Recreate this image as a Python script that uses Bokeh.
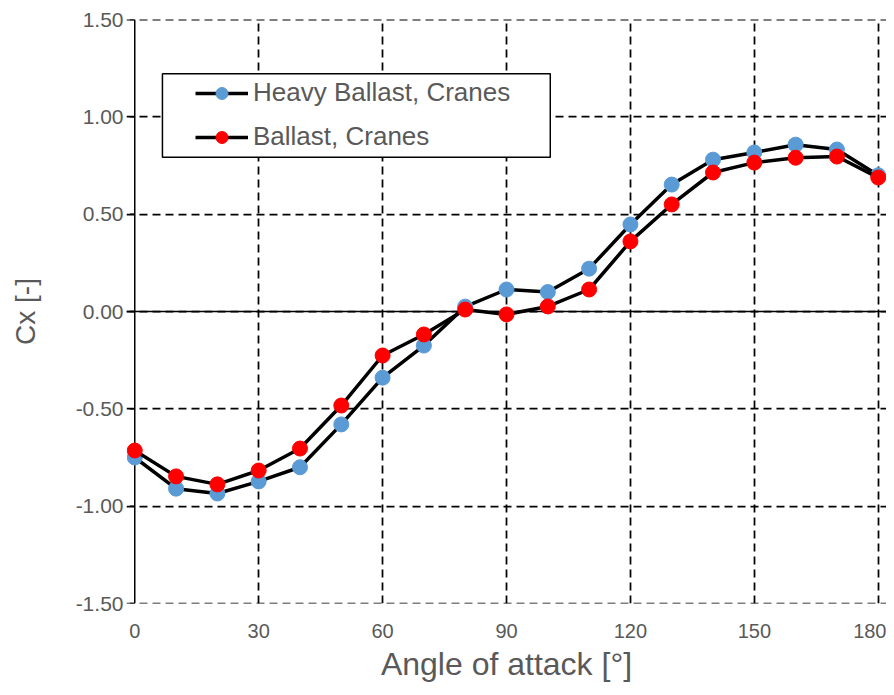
from bokeh.plotting import figure
from bokeh.models import (Range1d, Span, BoxAnnotation, Legend, LegendItem,
                          FixedTicker, NumeralTickFormatter)
from bokeh.embed import file_html
from bokeh.resources import INLINE

angles = [0, 10, 20, 30, 40, 50, 60, 70, 80, 90, 100, 110, 120, 130, 140, 150, 160, 170, 180]
heavy_ballast_cranes = [-0.75, -0.91, -0.935, -0.873, -0.80, -0.58, -0.34, -0.175, 0.025, 0.113,
                        0.10, 0.22, 0.447, 0.652, 0.78, 0.817, 0.857, 0.832, 0.70]
ballast_cranes = [-0.714, -0.847, -0.888, -0.817, -0.704, -0.483, -0.226, -0.118, 0.01, -0.015,
                  0.026, 0.113, 0.36, 0.55, 0.714, 0.765, 0.79, 0.796, 0.688]
x_ticks = [0, 30, 60, 90, 120, 150, 180]
y_ticks = [-1.5, -1.0, -0.5, 0.0, 0.5, 1.0, 1.5]
series_labels = ["Heavy Ballast, Cranes", "Ballast, Cranes"]
series_colors = ["#5B9BD5", "#FF0000"]

FONT = "Liberation Sans"
GREY = "#595959"
DASH = "8 5"

p = figure(width=886, height=687, output_backend="svg", toolbar_location=None,
           x_range=Range1d(-2, 182), y_range=Range1d(-1.5, 1.5),
           min_border_left=126, min_border_right=0, min_border_top=19, min_border_bottom=84)
p.outline_line_color = None
p.background_fill_color = "white"

# axes
p.xaxis.ticker = FixedTicker(ticks=x_ticks)
p.yaxis.ticker = FixedTicker(ticks=y_ticks)
p.yaxis.formatter = NumeralTickFormatter(format="0.00")
p.xaxis.axis_line_color = None
p.xaxis.major_tick_line_color = None
p.xaxis.minor_tick_line_color = None
p.xaxis.major_label_standoff = 14
p.xaxis.major_label_text_font = FONT
p.xaxis.major_label_text_font_size = "20px"
p.xaxis.major_label_text_color = GREY
p.xaxis.axis_label = "Angle of attack [°]"
p.xaxis.axis_label_text_font = FONT
p.xaxis.axis_label_text_font_size = "32px"
p.xaxis.axis_label_text_font_style = "normal"
p.xaxis.axis_label_text_color = GREY
p.xaxis.axis_label_standoff = 5

p.yaxis.axis_line_color = None
p.yaxis.major_tick_line_color = None
p.yaxis.minor_tick_line_color = None
p.yaxis.major_tick_out = 0
p.yaxis.major_tick_in = 0
p.yaxis.major_label_standoff = 3
p.yaxis.major_label_text_font = FONT
p.yaxis.major_label_text_font_size = "21px"
p.yaxis.major_label_text_color = GREY
p.yaxis.axis_label = "Cx [-]"
p.yaxis.axis_label_text_font = FONT
p.yaxis.axis_label_text_font_size = "28px"
p.yaxis.axis_label_text_font_style = "normal"
p.yaxis.axis_label_text_color = GREY
p.yaxis.axis_label_standoff = 32

# grids
p.xgrid.ticker = FixedTicker(ticks=x_ticks[1:])
for g in (p.xgrid, p.ygrid):
    g.grid_line_color = "black"
    g.grid_line_width = 1.75
    g.grid_line_dash = DASH

for yb in (y_ticks[0], y_ticks[-1]):
    p.add_layout(Span(location=yb, dimension="width", line_color="black",
                      line_width=1.75, line_dash=DASH, level="underlay"))

# solid zero lines (value axis at x=0, category axis at y=0)
p.add_layout(Span(location=0, dimension="width", line_color="black", line_width=1.5,
                  level="underlay"))
p.add_layout(Span(location=0, dimension="height", line_color="black", line_width=1.5,
                  level="underlay"))
# outward tick marks on the value axis
p.segment(x0=-1.2, x1=0, y0=y_ticks, y1=y_ticks, line_color="black", line_width=1.5,
          level="underlay")

renderers = []
for ys, col in zip([heavy_ballast_cranes, ballast_cranes], series_colors):
    lr = p.line(angles, ys, line_color="black", line_width=3.5)
    sr = p.scatter(angles, ys, size=15, fill_color=col, line_color=col)
    renderers.append([lr, sr])

# legend frame
p.add_layout(BoxAnnotation(left=6.70, right=100.6, top=1.221, bottom=0.793,
                           fill_color="white", fill_alpha=1.0,
                           line_color="black", line_alpha=1.0, line_width=1.5))

legend = Legend(items=[LegendItem(label=lab, renderers=r) for lab, r in zip(series_labels, renderers)],
                location=(69, 451), padding=0, spacing=13, margin=0,
                glyph_width=53, glyph_height=30, label_height=30, label_standoff=5,
                label_text_font=FONT, label_text_font_size="26px", label_text_color=GREY,
                border_line_color=None, background_fill_alpha=0)
p.add_layout(legend)

open("out.html", "w").write(file_html(p, INLINE))
